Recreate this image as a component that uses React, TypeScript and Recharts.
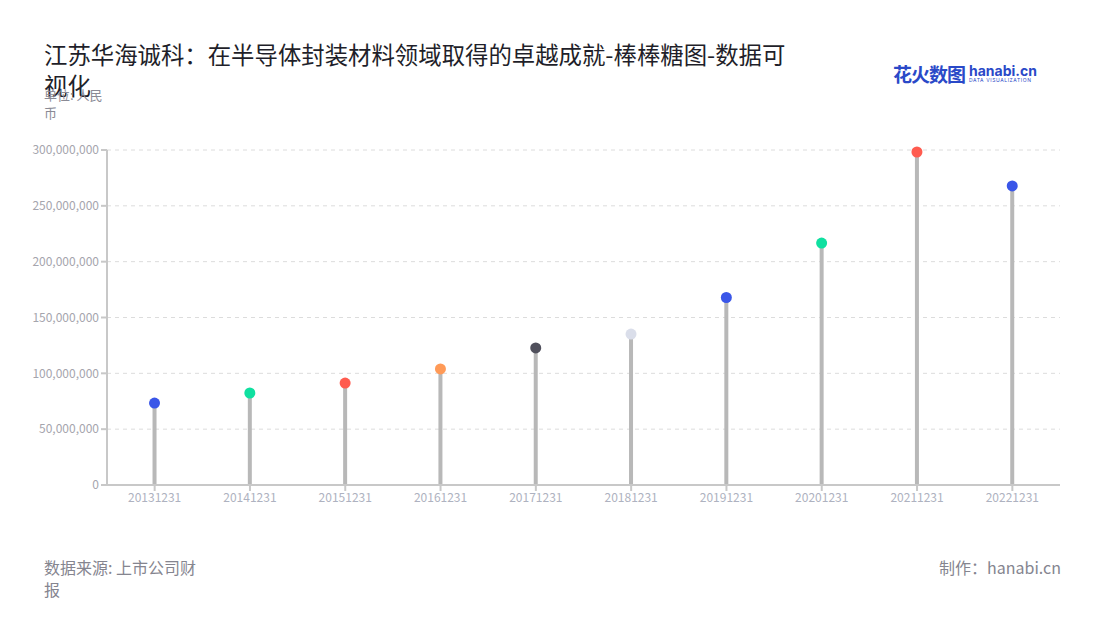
import React from 'react';
import { Bar, CartesianGrid, Cell, ComposedChart, XAxis, YAxis } from 'recharts';

const dates = ['20131231', '20141231', '20151231', '20161231', '20171231', '20181231', '20191231', '20201231', '20211231', '20221231'];
const revenue = [73400000, 82400000, 91300000, 103900000, 122700000, 135200000, 167900000, 216700000, 298200000, 267800000];
const dotColors = ['#3a56e8', '#0fe0a0', '#ff5b4f', '#ff9a57', '#50505c', '#dadeea', '#3a56e8', '#0fe0a0', '#ff5b4f', '#3a56e8'];
const yTicks = [0, 50000000, 100000000, 150000000, 200000000, 250000000, 300000000];

const FONT = '"Noto Sans CJK SC", "Noto Sans", sans-serif';

const chartData = dates.map((date, i) => ({ date, value: revenue[i], color: dotColors[i] }));

const Lollipop = (props: any) => {
  const { x, y, width, height, payload } = props;
  const cx = x + width / 2;
  return (
    <g>
      <rect x={cx - 2} y={y} width={4} height={height} fill="#b8b8b8" />
      <circle cx={cx} cy={y} r={5.5} fill={payload.color} />
    </g>
  );
};

const App: React.FC = () => {
  return (
    <div style={{ position: 'absolute', left: 0, top: 0, width: 1100, height: 620, background: '#fff', fontFamily: FONT }}>
      <div style={{ position: 'absolute', left: 44, top: 39, width: 752, fontSize: 23.4, lineHeight: '31px', color: '#1f1f2a' }}>
        江苏华海诚科：在半导体封装材料领域取得的卓越成就-棒棒糖图-数据可视化
      </div>
      <div style={{ position: 'absolute', left: 44, top: 86, width: 70, fontSize: 13, lineHeight: '18px', color: '#8a8a95' }}>
        单位: 人民币
      </div>
      <div style={{ position: 'absolute', left: 893, top: 60, display: 'flex', alignItems: 'center' }}>
        <span style={{ fontSize: 19, fontWeight: 700, color: '#2a49c8', letterSpacing: -1 }}>花火数图</span>
        <span style={{ display: 'flex', flexDirection: 'column', marginLeft: 4, lineHeight: 1 }}>
          <span style={{ fontSize: 14, fontWeight: 700, color: '#2a49c8', fontFamily: 'Inter, sans-serif' }}>hanabi.cn</span>
          <span style={{ fontSize: 5, color: '#2a49c8', letterSpacing: 0.6, fontFamily: 'Inter, sans-serif' }}>DATA VISUALIZATION</span>
        </span>
      </div>
      <div style={{ position: 'absolute', left: 44, top: 556, width: 162, fontSize: 16, lineHeight: '22px', color: '#85858f' }}>
        数据来源: 上市公司财报
      </div>
      <div style={{ position: 'absolute', right: 39, top: 556, fontSize: 16, lineHeight: '22px', color: '#85858f' }}>
        制作：hanabi.cn
      </div>
      <div style={{ position: 'absolute', left: 0, top: 0 }}>
        <ComposedChart width={1100} height={620} data={chartData} margin={{ top: 150, right: 40, bottom: 105, left: 0 }}>
          <CartesianGrid horizontal vertical={false} stroke="#dcdcdc" strokeDasharray="4 4" />
          <XAxis
            dataKey="date"
            stroke="#c8c8c8"
            strokeWidth={2}
            tickSize={6}
            tick={{ fill: '#aeb2c0', fontSize: 12, fontFamily: FONT }}
            tickLine={{ stroke: '#c8c8c8', strokeWidth: 2 }}
          />
          <YAxis
            width={107}
            domain={[0, 300000000]}
            ticks={yTicks}
            interval={0}
            stroke="#c8c8c8"
            strokeWidth={2}
            tickSize={6}
            tick={{ fill: '#a5a5ad', fontSize: 12, fontFamily: FONT }}
            tickFormatter={(v: number) => v.toLocaleString('en-US')}
          />
          <Bar dataKey="value" isAnimationActive={false} shape={Lollipop}>
            {chartData.map((d) => (
              <Cell key={d.date} fill={d.color} />
            ))}
          </Bar>
        </ComposedChart>
      </div>
    </div>
  );
};

export default App;
